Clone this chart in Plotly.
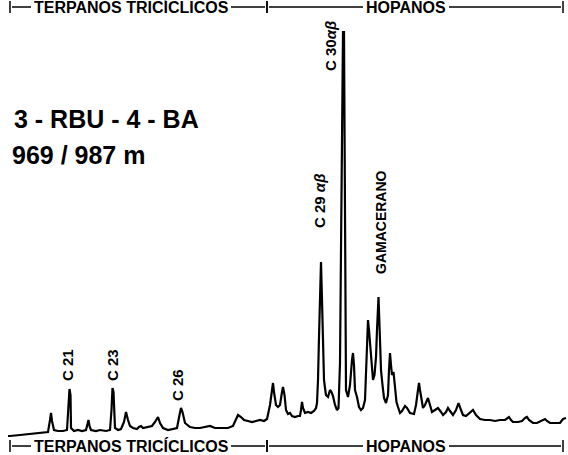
import plotly.graph_objects as go

# ---- data (retention units = px along x, response = px above bottom) ----
retention = [8, 10, 20, 30, 40, 48, 50, 51, 52, 54, 58, 63, 67, 68.5, 69.5, 70.5, 71, 74, 78, 82, 86, 87.5, 88.5,
             89.5, 91, 96, 100, 106, 110, 111.5, 112.5, 113.5, 114.5, 115, 118, 121, 124, 126, 128, 130, 133, 137,
             139, 141, 143, 148, 152, 155, 158, 160, 163, 168, 173, 177, 179.5, 181, 182.5, 185, 190, 195, 200, 205,
             210, 215, 220, 228, 233, 236, 238, 241, 244, 248, 252, 256, 260, 264, 267, 270, 272, 273, 274, 276, 278,
             280, 282, 283, 284.5, 286, 288, 290, 292, 295, 298, 300, 301, 302, 303, 305, 308, 311, 314, 316, 317,
             318, 319, 320, 321, 322, 323, 324, 325, 326, 328, 330, 331.5, 333, 335, 337, 338.5, 340, 341, 342, 343,
             344, 344.5, 345.5, 346, 348, 350, 352, 353, 354, 355, 357, 359, 361, 363, 365, 366.5, 368, 369, 370,
             371, 372, 373, 374.5, 376, 377, 378.5, 380, 381, 382.5, 384, 386, 388, 389, 390, 391, 392, 393.5, 395,
             396.5, 398, 400, 402, 405, 407, 410, 414, 416, 418, 419, 420, 421.5, 423, 425, 428, 430, 432, 435, 438,
             441, 443, 446, 448, 450, 453, 456, 458.5, 461, 463, 466, 470, 473, 476, 480, 485, 490, 495, 500, 505,
             507, 509, 511, 513, 518, 522, 525, 527, 529, 533, 537, 541, 545, 547, 550, 555, 560, 563, 566]
trace_px = [436, 436, 435, 434, 433, 432, 420, 413, 421, 430, 431, 431, 430, 400, 389, 395, 428, 431, 430, 431, 430,
            424, 420, 426, 430, 431, 430, 431, 430, 410, 388, 392, 420, 428, 430, 429, 422, 412, 420, 426, 428, 429,
            427, 426, 428, 427, 426, 422, 417, 423, 428, 430, 429, 428, 415, 408, 412, 423, 427, 428, 428, 427, 426,
            428, 428, 428, 426, 420, 415, 417, 420, 421, 422, 421, 420, 421, 419, 405, 390, 383, 392, 405, 407, 405,
            392, 387, 395, 410, 414, 413, 416, 417, 416, 416, 410, 402, 408, 413, 412, 413, 411, 408, 403, 380, 337,
            300, 262, 300, 340, 380, 388, 395, 397, 390, 392, 396, 405, 410, 408, 363, 250, 120, 32, 32, 150, 330,
            390, 397, 385, 360, 353, 365, 390, 397, 407, 410, 408, 400, 360, 320, 330, 345, 355, 370, 380, 375, 357,
            330, 297, 340, 370, 385, 398, 403, 395, 370, 353, 365, 375, 372, 385, 402, 407, 413, 411, 406, 408, 413,
            414, 405, 390, 383, 390, 402, 408, 405, 398, 405, 412, 410, 408, 412, 415, 412, 408, 411, 415, 410, 403,
            410, 415, 416, 413, 410, 415, 419, 420, 420, 421, 420, 420, 418, 417, 420, 422, 422, 421, 418, 417, 420,
            423, 423, 421, 419, 421, 423, 423, 423, 419, 418]
response = [455 - v for v in trace_px]

peak_labels = ["C 21", "C 23", "C 26", "C 29 <i>αβ</i>", "C 30<i>αβ</i>", "GAMACERANO"]
peak_label_x = [67, 112, 177, 319, 330, 381]
peak_label_y = [455 - 365, 455 - 365, 455 - 385, 455 - 201, 455 - 46, 455 - 222]

region_names = ["TERPANOS TRICÍCLICOS", "HOPANOS"]
region_start = [10, 267]
region_end = [267, 563]
region_text_center = [131, 406]
region_text_halfwidth = [100, 43]
bracket_rows = [455 - 446, 455 - 7]

sample_lines = ["3 - RBU - 4 - BA", "969 / 987 m"]
sample_x = [12, 10]
sample_y = [455 - 119, 455 - 155]

fig = go.Figure()
fig.add_trace(go.Scatter(x=retention, y=response, mode="lines",
                         line=dict(color="black", width=2.2), hoverinfo="skip", showlegend=False))

bold = "Liberation Sans"
for t, x, y in zip(peak_labels, peak_label_x, peak_label_y):
    fig.add_annotation(x=x, y=y, text="<b>" + t + "</b>", textangle=-90, showarrow=False,
                       font=dict(family=bold, size=15 if t != "GAMACERANO" else 14, color="black"),
                       xanchor="center", yanchor="middle")

for row in bracket_rows:
    for name, s, e, c, hw in zip(region_names, region_start, region_end, region_text_center, region_text_halfwidth):
        fig.add_annotation(x=c, y=row, text="<b>" + name + "</b>", showarrow=False,
                           font=dict(family=bold, size=16, color="black"), xanchor="center", yanchor="middle")
        fig.add_shape(type="line", x0=s + 2, x1=c - hw, y0=row, y1=row, line=dict(color="black", width=1.5))
        fig.add_shape(type="line", x0=c + hw, x1=e - 2, y0=row, y1=row, line=dict(color="black", width=1.5))
        fig.add_shape(type="line", x0=s, x1=s, y0=row - 6, y1=row + 6, line=dict(color="black", width=1.5))
        fig.add_shape(type="line", x0=e, x1=e, y0=row - 6, y1=row + 6, line=dict(color="black", width=1.5))

for t, x, y in zip(sample_lines, sample_x, sample_y):
    fig.add_annotation(x=x, y=y, text="<b>" + t + "</b>", showarrow=False,
                       font=dict(family=bold, size=25, color="black"), xanchor="left", yanchor="middle")

fig.update_layout(width=568, height=455, margin=dict(l=0, r=0, t=0, b=0),
                  paper_bgcolor="white", plot_bgcolor="white",
                  xaxis=dict(range=[0, 568], visible=False, fixedrange=True),
                  yaxis=dict(range=[0, 455], visible=False, fixedrange=True))
fig.write_html("out.html", config={"displayModeBar": False},
               post_script="document.body.style.margin='0';document.body.style.overflow='hidden';")
